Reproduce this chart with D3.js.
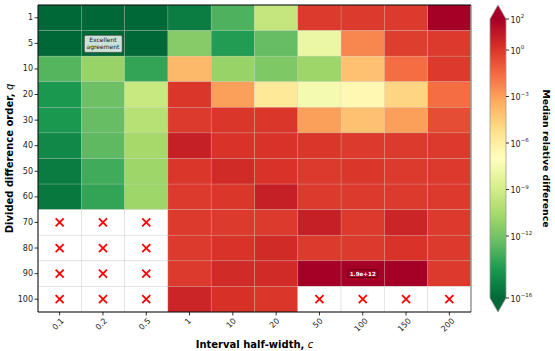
<!DOCTYPE html>
<html>
<head>
<meta charset="utf-8">
<script src="https://cdn.jsdelivr.net/npm/d3@7"></script>
<style>
  body { margin: 0; background: #fff; }
  svg { display: block; font-family: "DejaVu Sans", sans-serif; }
  .tick-label { font-size: 8px; fill: #222; }
  .axis-title { font-size: 10px; font-weight: bold; fill: #000; }
  .cbar-title { font-size: 9.3px; font-weight: bold; fill: #000; }
</style>
</head>
<body>
<div id="chart"></div>
<script>
// === Data (log10 of median relative difference; null = no result) ===
const qOrders = [1, 5, 10, 20, 30, 40, 50, 60, 70, 80, 90, 100];
const halfWidths = ["0.1", "0.2", "0.5", "1", "10", "20", "50", "100", "150", "200"];

const row_q1   = [-16.5, -16.5, -16.3, -15.2, -13.0, -9.5, -0.1, -0.1, -0.1, 2.5];
const row_q5   = [-16.5, -16.5, -16.3, -11.5, -14.0, -12.4, -7.9, -2.3, -0.2, -0.1];
const row_q10  = [-12.8, -11.0, -13.6, -3.8, -11.0, -11.7, -10.8, -4.1, -1.6, -0.1];
const row_q20  = [-14.2, -12.2, -9.4, 0.0, -3.0, -5.7, -7.5, -6.6, -4.8, -1.6];
const row_q30  = [-14.2, -12.4, -10.0, -0.1, 0.0, 0.0, -3.0, -4.1, -3.0, -0.7];
const row_q40  = [-14.8, -12.6, -10.6, 0.8, 0.1, 0.1, 0.0, -0.1, -0.1, -0.1];
const row_q50  = [-15.3, -13.3, -10.8, 0.0, 0.4, 0.1, -0.1, 0.0, -0.1, -0.1];
const row_q60  = [-15.4, -13.6, -10.8, -0.1, 0.0, 0.8, -0.1, -0.1, -0.1, -0.1];
const row_q70  = [null, null, null, -0.1, -0.1, -0.1, 0.8, -0.1, 0.6, -0.1];
const row_q80  = [null, null, null, -0.1, 0.1, 0.4, -0.1, -0.1, 0.1, -0.1];
const row_q90  = [null, null, null, -0.1, 0.4, 0.4, 3.0, 12.28, 3.0, -0.1];
const row_q100 = [null, null, null, 0.6, 0.2, 0.0, null, null, null, null];
const rows = [row_q1, row_q5, row_q10, row_q20, row_q30, row_q40, row_q50, row_q60, row_q70, row_q80, row_q90, row_q100];

const cbarTicks = [2, 0, -3, -6, -9, -12, -16];
const cbarMin = -16, cbarMax = 2;

const noteGood = { q: 5, c: "0.2", lines: ["Excellent", "agreement"] };
const noteBad = { q: 90, c: "100", text: "1.9e+12" };

// ---- build ----
const W = 555, H = 351;
const plot = { left: 38, right: 471, top: 5, bottom: 312 };

const svg = d3.select("#chart").append("svg").attr("width", W).attr("height", H);

const x = d3.scaleBand().domain(halfWidths).range([plot.left, plot.right]);
const y = d3.scaleBand().domain(qOrders).range([plot.top, plot.bottom]);

// RdYlGn reversed, linear between the 11 class colors (matplotlib style)
const rdylgn = d3.schemeRdYlGn[11].slice().reverse();
const colorT = d3.scaleLinear().domain(d3.range(11).map((i) => i / 10)).range(rdylgn).clamp(true);
const norm = d3.scaleLinear().domain([cbarMin, cbarMax]).range([0, 1]).clamp(true);
const color = (v) => colorT(norm(v));

const cells = [];
rows.forEach((r, i) => r.forEach((v, j) => cells.push({ q: qOrders[i], c: halfWidths[j], v })));

const g = svg.append("g");
g.selectAll("rect.cell")
  .data(cells)
  .join("rect")
  .attr("class", "cell")
  .attr("x", (d) => x(d.c))
  .attr("y", (d) => y(d.q))
  .attr("width", x.bandwidth())
  .attr("height", y.bandwidth())
  .attr("fill", (d) => (d.v == null ? "#fff" : color(d.v)))
  .attr("stroke", "#c8c8c8")
  .attr("stroke-opacity", (d) => (d.v == null ? 0.6 : 0.35))
  .attr("stroke-width", 0.6);

// red crosses on missing cells
const xs = 4;
g.selectAll("path.miss")
  .data(cells.filter((d) => d.v == null))
  .join("path")
  .attr("class", "miss")
  .attr("d", (d) => {
    const cx = x(d.c) + x.bandwidth() / 2, cy = y(d.q) + y.bandwidth() / 2;
    return `M${cx - xs},${cy - xs}L${cx + xs},${cy + xs}M${cx - xs},${cy + xs}L${cx + xs},${cy - xs}`;
  })
  .attr("stroke", "#f00")
  .attr("stroke-width", 1.8);

// spines
svg.append("line").attr("x1", plot.right).attr("x2", plot.right).attr("y1", plot.top).attr("y2", plot.bottom)
  .attr("stroke", "#999").attr("stroke-width", 1.5);
svg.append("path")
  .attr("d", `M${plot.right},${plot.top}H${plot.left}V${plot.bottom}H${plot.right}`)
  .attr("fill", "none").attr("stroke", "#000").attr("stroke-width", 1);

// y axis
const yTicks = svg.append("g");
qOrders.forEach((q) => {
  const cy = y(q) + y.bandwidth() / 2;
  yTicks.append("line").attr("x1", plot.left - 3.5).attr("x2", plot.left).attr("y1", cy).attr("y2", cy).attr("stroke", "#000").attr("stroke-width", 0.8);
  yTicks.append("text").attr("class", "tick-label").attr("x", plot.left - 5).attr("y", cy)
    .attr("text-anchor", "end").attr("dominant-baseline", "central").text(q);
});

// x axis (rotated 45°, centred under tick)
const xTicks = svg.append("g");
halfWidths.forEach((c) => {
  const cx = x(c) + x.bandwidth() / 2;
  xTicks.append("line").attr("x1", cx).attr("x2", cx).attr("y1", plot.bottom).attr("y2", plot.bottom + 3.5).attr("stroke", "#000").attr("stroke-width", 0.8);
  const t = xTicks.append("text").attr("class", "tick-label").attr("text-anchor", "middle").attr("dominant-baseline", "central").text(c);
  const w = t.node().getComputedTextLength();
  const half = (w + 6) * Math.SQRT1_2 / 2;
  const ty = plot.bottom + 5.5 + half;
  t.attr("transform", `translate(${cx - 1.5},${ty}) rotate(-45)`);
});

// axis titles
const xt = svg.append("text").attr("class", "axis-title").attr("x", (plot.left + plot.right) / 2).attr("y", 348).attr("text-anchor", "middle");
xt.append("tspan").text("Interval half-width, ");
xt.append("tspan").attr("font-weight", "normal").attr("font-style", "italic").text("c");

const yt = svg.append("text").attr("class", "axis-title").attr("text-anchor", "middle")
  .attr("transform", `translate(12.5,${(plot.top + plot.bottom) / 2}) rotate(-90)`);
yt.append("tspan").text("Divided difference order, ");
yt.append("tspan").attr("font-weight", "normal").attr("font-style", "italic").text("q");

// annotations
function noteBox(cxv, cyv, lines, opts) {
  const ng = svg.append("g");
  const box = ng.append("rect");
  const txt = ng.append("text").attr("text-anchor", "middle").attr("font-size", opts.size)
    .attr("font-weight", opts.weight).attr("fill", opts.textFill);
  lines.forEach((l, i) => txt.append("tspan").attr("x", cxv).attr("y", cyv + (i - (lines.length - 1) / 2) * opts.size * 1.15).attr("dominant-baseline", "central").text(l));
  const bb = txt.node().getBBox();
  box.attr("x", bb.x - opts.pad).attr("y", bb.y - opts.pad * 0.5).attr("width", bb.width + 2 * opts.pad).attr("height", bb.height + opts.pad)
    .attr("rx", 1.5).attr("fill", opts.fill).attr("fill-opacity", opts.fillOpacity).attr("stroke", opts.stroke).attr("stroke-width", 0.6);
}
noteBox(x(noteGood.c) + x.bandwidth() / 2, y(noteGood.q) + y.bandwidth() / 2, noteGood.lines,
  { size: 6, weight: "normal", textFill: "#111", pad: 2.2, fill: "#fff", fillOpacity: 0.8, stroke: "#333" });
noteBox(x(noteBad.c) + x.bandwidth() / 2, y(noteBad.q) + y.bandwidth() / 2, [noteBad.text],
  { size: 5.6, weight: "bold", textFill: "#fff", pad: 1.8, fill: "#a50026", fillOpacity: 1, stroke: "#3a0008" });

// colorbar
const cb = { x: 490, w: 16, top: 19, bottom: 298, tipTop: 5, tipBottom: 312 };
const cy = d3.scaleLinear().domain([cbarMin, cbarMax]).range([cb.bottom, cb.top]);
const defs = svg.append("defs");
const grad = defs.append("linearGradient").attr("id", "cbgrad").attr("x1", 0).attr("y1", 1).attr("x2", 0).attr("y2", 0);
rdylgn.forEach((col, i) => grad.append("stop").attr("offset", i / 10).attr("stop-color", col));
svg.append("rect").attr("x", cb.x).attr("y", cb.top).attr("width", cb.w).attr("height", cb.bottom - cb.top).attr("fill", "url(#cbgrad)");
svg.append("path").attr("d", `M${cb.x},${cb.top}L${cb.x + cb.w / 2},${cb.tipTop}L${cb.x + cb.w},${cb.top}Z`).attr("fill", rdylgn[10]);
svg.append("path").attr("d", `M${cb.x},${cb.bottom}L${cb.x + cb.w / 2},${cb.tipBottom}L${cb.x + cb.w},${cb.bottom}Z`).attr("fill", rdylgn[0]);
svg.append("path")
  .attr("d", `M${cb.x},${cb.top}L${cb.x + cb.w / 2},${cb.tipTop}L${cb.x + cb.w},${cb.top}V${cb.bottom}L${cb.x + cb.w / 2},${cb.tipBottom}L${cb.x},${cb.bottom}Z`)
  .attr("fill", "none").attr("stroke", "#999").attr("stroke-width", 0.8);

const cbt = svg.append("g");
cbarTicks.forEach((e) => {
  const ty = cy(e);
  cbt.append("line").attr("x1", cb.x + cb.w).attr("x2", cb.x + cb.w + 3).attr("y1", ty).attr("y2", ty).attr("stroke", "#000").attr("stroke-width", 0.8);
  const t = cbt.append("text").attr("class", "tick-label").attr("font-size", "7.6px").attr("x", cb.x + cb.w + 4.5).attr("y", ty + 0.5).attr("dominant-baseline", "central");
  t.append("tspan").text("10");
  t.append("tspan").attr("font-size", "5.5px").attr("dy", -3.5).text(e < 0 ? "\u2212" + Math.abs(e) : e);
});

svg.append("text").attr("class", "cbar-title").attr("text-anchor", "middle")
  .attr("transform", `translate(543,${(cb.tipTop + cb.tipBottom) / 2}) rotate(90)`)
  .text("Median relative difference");
</script>
</body>
</html>
